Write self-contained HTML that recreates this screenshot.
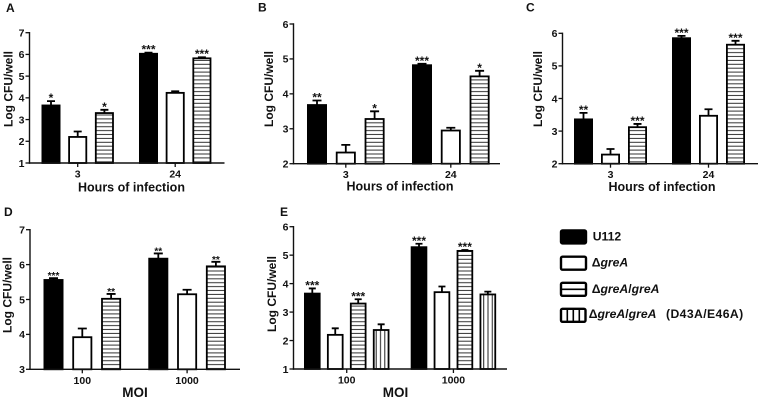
<!DOCTYPE html>
<html>
<head>
<meta charset="utf-8">
<style>
html,body{margin:0;padding:0;background:#fff;width:760px;height:400px;overflow:hidden}
svg{display:block;filter:blur(0.3px)}
text{font-family:"Liberation Sans",sans-serif;font-weight:bold;fill:#111}
</style>
</head>
<body>
<svg id="figure" xmlns="http://www.w3.org/2000/svg" width="760" height="400" viewBox="0 0 760 400">
<defs>
<pattern id="hstripe" patternUnits="userSpaceOnUse" width="4" height="3.9"><rect width="4" height="3.9" fill="#fff"/><rect y="1.4" width="4" height="1" fill="#333"/></pattern>
<pattern id="vstripe" patternUnits="userSpaceOnUse" width="4.3" height="4"><rect width="4.3" height="4" fill="#fff"/><rect x="1.6" width="1" height="4" fill="#222"/></pattern>
</defs>
<g id="legend">
<g>
<rect x="561" y="230.4" width="25" height="13" rx="1.5" fill="#000" stroke="#000" stroke-width="2.4"/>
<text x="592.7" y="240.7" font-size="12.2">U112</text>
</g>
<g>
<rect x="561" y="256.7" width="25" height="13" rx="1.5" fill="#fff" stroke="#000" stroke-width="2.4"/>
<text x="591.7" y="266.7" font-size="12.2">Δ<tspan font-style="italic">greA</tspan></text>
</g>
<g>
<rect x="561" y="282.8" width="25" height="13" rx="1.5" fill="#fff" stroke="#000" stroke-width="2.4"/>
<line x1="561" y1="289.3" x2="586" y2="289.3" stroke="#000" stroke-width="1.6"/>
<text x="591.7" y="293" font-size="12.2">Δ<tspan font-style="italic">greA</tspan>/<tspan font-style="italic">greA</tspan></text>
</g>
<g>
<rect x="561" y="308.8" width="24.5" height="13" rx="1.5" fill="#fff" stroke="#000" stroke-width="2.4"/>
<line x1="567.3" y1="308.8" x2="567.3" y2="321.8" stroke="#000" stroke-width="1.6"/>
<line x1="573.3" y1="308.8" x2="573.3" y2="321.8" stroke="#000" stroke-width="1.6"/>
<line x1="579.3" y1="308.8" x2="579.3" y2="321.8" stroke="#000" stroke-width="1.6"/>
<text x="588.7" y="318" font-size="12.2">Δ<tspan font-style="italic">greA</tspan>/<tspan font-style="italic">greA</tspan></text>
<text x="666" y="318" font-size="12.2" letter-spacing="0.4">(D43A/E46A)</text>
</g>
</g>
</svg>
<script>
// Chart data: one group of arrays per panel
const categoriesHours = ['3', '24'];
const categoriesMoi = ['100', '1000'];

const ticksA = [1, 2, 3, 4, 5, 6, 7];
const valuesA = [[3.65, 2.2, 3.3], [6.03, 4.23, 5.82]];
const errorsA = [[0.2, 0.25, 0.15], [0.05, 0.07, 0.05]];
const starsA = [['*', '', '*'], ['***', '', '***']];

const ticksB = [2, 3, 4, 5, 6];
const valuesB = [[3.68, 2.32, 3.28], [4.82, 2.95, 4.5]];
const errorsB = [[0.13, 0.22, 0.22], [0.04, 0.08, 0.16]];
const starsB = [['**', '', '*'], ['***', '', '*']];

const ticksC = [2, 3, 4, 5, 6];
const valuesC = [[3.36, 2.28, 3.12], [5.85, 3.47, 5.65]];
const errorsC = [[0.2, 0.17, 0.1], [0.07, 0.2, 0.12]];
const starsC = [['**', '', '***'], ['***', '', '***']];

const ticksD = [3, 4, 5, 6, 7];
const valuesD = [[5.56, 3.92, 5.02], [6.17, 5.15, 5.95]];
const errorsD = [[0.05, 0.25, 0.14], [0.15, 0.13, 0.13]];
const starsD = [['***', '', '**'], ['**', '', '**']];

const ticksE = [1, 2, 3, 4, 5, 6];
const valuesE = [[3.65, 2.2, 3.3, 2.37], [5.28, 3.7, 5.15, 3.62]];
const errorsE = [[0.18, 0.23, 0.15, 0.2], [0.12, 0.2, 0.03, 0.1]];
const starsE = [['***', '', '***', ''], ['***', '', '***', '']];

const seriesFills = ['#000', '#fff', 'url(#hstripe)', 'url(#vstripe)'];
const seriesNames = ['u112', 'grea', 'grea-grea', 'grea-mutant'];

const NS = 'http://www.w3.org/2000/svg';
const figure = document.getElementById('figure');

function make(parent, tag, attrs, text) {
  const el = document.createElementNS(NS, tag);
  for (const k in attrs) el.setAttribute(k, attrs[k]);
  if (text !== undefined) el.textContent = text;
  parent.appendChild(el);
  return el;
}

function drawPanel(p) {
  const g = make(figure, 'g', {});
  
  

  const lo = p.ticks[0], hi = p.ticks[p.ticks.length - 1];
  const y = v => p.y0 + (v - lo) * (p.y1 - p.y0) / (hi - lo);
  const barX = (gi, si) => p.groupStart[gi] + si * p.step;

  const letter = make(g, 'text', {x: p.letterX, y: p.letterY, 'font-size': 12}, p.letter);
  
  

  p.values.forEach((group, gi) => {
    group.forEach((v, si) => {
      const x = barX(gi, si);
      const cx = x + p.barW / 2;
      const top = y(v + p.errors[gi][si]);

      const err = make(g, 'path', {
        d: 'M' + cx + ' ' + y(v) + 'V' + top + 'M' + (cx - p.cap) + ' ' + top + 'H' + (cx + p.cap),
        stroke: '#000', 'stroke-width': 1.8, fill: 'none'
      });
      
      

      const bar = make(g, 'rect', {
        x: x + 0.9, y: y(v), width: p.barW - 1.8, height: p.y0 - y(v),
        fill: seriesFills[si], stroke: '#000', 'stroke-width': 1.8
      });
      
      

      if (p.stars[gi][si]) {
        const star = make(g, 'text', {
          x: cx, y: top + 1, 'font-size': p.starSize, 'text-anchor': 'middle', fill: '#222'
        }, p.stars[gi][si]);
        
        
      }
    });
  });

  const yAxis = make(g, 'line', {x1: p.axisX, x2: p.axisX, y1: p.y1 - 0.7, y2: p.y0 + 0.7, stroke: '#111', 'stroke-width': 1.4});
  
  

  const xAxis = make(g, 'line', {x1: p.axisX - 0.7, x2: p.axisEnd, y1: p.y0, y2: p.y0, stroke: '#111', 'stroke-width': 1.4});
  
  

  p.ticks.forEach(t => {
    const mark = make(g, 'line', {x1: p.axisX - 4, x2: p.axisX, y1: y(t), y2: y(t), stroke: '#111', 'stroke-width': 1.3});
    
    
    const lab = make(g, 'text', {x: p.axisX - 5, y: y(t) + 3.8, 'font-size': 10.5, 'text-anchor': 'end'}, t);
    
    
  });

  p.categories.forEach((c, gi) => {
    const cx = (barX(gi, 0) + barX(gi, p.values[gi].length - 1) + p.barW) / 2;
    const mark = make(g, 'line', {x1: cx, x2: cx, y1: p.y0, y2: p.y0 + 4, stroke: '#111', 'stroke-width': 1.3});
    
    
    const lab = make(g, 'text', {x: cx, y: p.y0 + 14.5, 'font-size': 10.5, 'text-anchor': 'middle'}, c);
    
    
  });

  const xTitle = make(g, 'text', {x: p.xTitleX, y: p.xTitleY, 'font-size': p.xTitleSize, 'text-anchor': 'middle'}, p.xTitle);
  
  

  const yTitle = make(g, 'text', {
    x: 0, y: 0, 'font-size': 12, 'text-anchor': 'middle',
    transform: 'translate(' + p.yTitleX + ' ' + p.yTitleY + ') rotate(-90)'
  }, 'Log CFU/well');
  
  
}

drawPanel({letter: 'A', letterX: 6, letterY: 12, categories: categoriesHours, xTitle: 'Hours of infection',
  ticks: ticksA, values: valuesA, errors: errorsA, stars: starsA, starSize: 12,
  axisX: 29.5, axisEnd: 224.5, y0: 163, y1: 32.7, groupStart: [41.5, 139], step: 26.7, barW: 19, cap: 4,
  xTitleX: 131.5, xTitleY: 191.5, xTitleSize: 12.5, yTitleX: 12.5, yTitleY: 89});

drawPanel({letter: 'B', letterX: 258, letterY: 11.5, categories: categoriesHours, xTitle: 'Hours of infection',
  ticks: ticksB, values: valuesB, errors: errorsB, stars: starsB, starSize: 12,
  axisX: 293.5, axisEnd: 500, y0: 163.7, y1: 24, groupStart: [307, 412], step: 28.8, barW: 20, cap: 4.5,
  xTitleX: 400, xTitleY: 190.5, xTitleSize: 12.5, yTitleX: 273, yTitleY: 89});

drawPanel({letter: 'C', letterX: 526, letterY: 11.5, categories: categoriesHours, xTitle: 'Hours of infection',
  ticks: ticksC, values: valuesC, errors: errorsC, stars: starsC, starSize: 12,
  axisX: 562.5, axisEnd: 758, y0: 163.7, y1: 33.3, groupStart: [574, 672], step: 27, barW: 19, cap: 4,
  xTitleX: 662, xTitleY: 191, xTitleSize: 12.5, yTitleX: 542, yTitleY: 89});

drawPanel({letter: 'D', letterX: 4, letterY: 216, categories: categoriesMoi, xTitle: 'MOI',
  ticks: ticksD, values: valuesD, errors: errorsD, stars: starsD, starSize: 10,
  axisX: 30, axisEnd: 240, y0: 369.3, y1: 229.7, groupStart: [43.5, 148.3], step: 28.8, barW: 20, cap: 4.5,
  xTitleX: 135, xTitleY: 397, xTitleSize: 13.5, yTitleX: 11.5, yTitleY: 295});

drawPanel({letter: 'E', letterX: 280, letterY: 216, categories: categoriesMoi, xTitle: 'MOI',
  ticks: ticksE, values: valuesE, errors: errorsE, stars: starsE, starSize: 12,
  axisX: 293.5, axisEnd: 507, y0: 369, y1: 226.7, groupStart: [304, 410.7], step: 22.95, barW: 16.6, cap: 3.5,
  xTitleX: 395.5, xTitleY: 397, xTitleSize: 13.5, yTitleX: 276, yTitleY: 294});
</script>
</body>
</html>
